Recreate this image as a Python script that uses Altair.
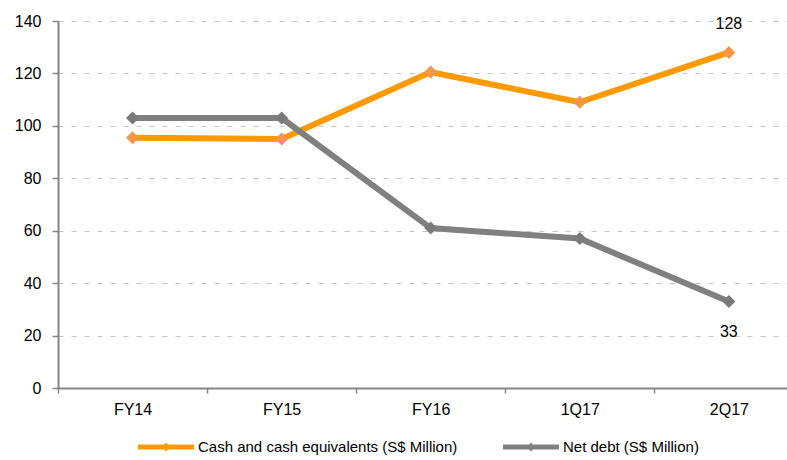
import json
import altair as alt
import pandas as pd

# Reporting periods and the two series (S$ Million)
periods = ["FY14", "FY15", "FY16", "1Q17", "2Q17"]
cash = [95.5, 95.0, 120.5, 109.0, 128.0]
net_debt = [103.0, 103.0, 61.0, 57.0, 33.0]
series_names = ["Cash and cash equivalents (S$ Million)", "Net debt (S$ Million)"]
line_colors = ["#FF9900", "#808080"]
marker_colors = ["#F79646", "#7A7A7A"]
y_ticks = [0, 20, 40, 60, 80, 100, 120, 140]

rows = []
for i, p in enumerate(periods):
    for name, vals in zip(series_names, [cash, net_debt]):
        rows.append({
            "idx": i,
            "period": p,
            "series": name,
            "line_series": name,
            "marker_series": name,
            "value": vals[i],
        })
df = pd.DataFrame(rows)

FONT = "Liberation Sans"
FS = 16
LEGEND_FS = 15
AXIS_GREY = "#868686"

# Category positions on a numeric scale; ticks sit between categories
tick_vals = []
for i in range(len(periods)):
    tick_vals += [i - 0.5, i]
label_expr = "datum.value % 1 === 0 ? " + json.dumps(periods) + "[datum.value] : ''"

x_enc = alt.X(
    "idx:Q",
    scale=alt.Scale(domain=[-0.5, 4.39], nice=False, zero=False),
    axis=alt.Axis(
        values=tick_vals,
        labelExpr=label_expr,
        labelOverlap=False,
        grid=False,
        title=None,
        domainColor=AXIS_GREY,
        domainWidth=2,
        tickColor=AXIS_GREY,
        tickWidth=1.5,
        tickSize=5,
        tickOpacity={"condition": {"test": "datum.value % 1 !== 0", "value": 1}, "value": 0},
        labelPadding=8,
        labelFont=FONT,
        labelFontSize=FS,
        labelColor="black",
    ),
)

y_enc = alt.Y(
    "value:Q",
    scale=alt.Scale(domain=[0, 140], nice=False),
    axis=alt.Axis(
        values=y_ticks,
        title=None,
        grid=True,
        gridColor="#C4C4C4",
        gridDash=[5, 8],
        gridWidth=1,
        domainColor=AXIS_GREY,
        domainWidth=2,
        tickColor=AXIS_GREY,
        tickWidth=1.5,
        tickSize=6,
        labelPadding=11,
        labelFont=FONT,
        labelFontSize=FS,
        labelColor="black",
    ),
)

base = alt.Chart(df)

# Legend symbol: a thick line segment with a small diamond in the middle
legend_path = (
    "M-1,-0.09 L1,-0.09 L1,0.09 L-1,0.09 Z "
    "M0,-0.16 L0.15,0 L0,0.16 L-0.15,0 Z"
)

# Layer with no rows that only carries the series legend (domain is explicit)
legend_layer = base.transform_filter("false").mark_point(
    filled=True, size=3136, opacity=1, shape=legend_path, strokeWidth=0
).encode(
    x=x_enc,
    y=y_enc,
    color=alt.Color(
        "series:N",
        scale=alt.Scale(domain=series_names, range=line_colors),
        legend=alt.Legend(
            title=None,
            orient="none",
            direction="horizontal",
            legendX=80,
            legendY=398,
            padding=0,
            symbolType=legend_path,
            symbolSize=3136,
            symbolStrokeWidth=0,
            symbolOpacity=1,
            labelFont=FONT,
            labelFontSize=LEGEND_FS,
            labelColor="black",
            labelOffset=4,
            labelLimit=400,
            columnPadding=45,
        ),
    ),
)

lines = base.mark_line(strokeWidth=6).encode(
    x=x_enc,
    y=y_enc,
    stroke=alt.Stroke(
        "line_series:N",
        scale=alt.Scale(domain=series_names, range=line_colors),
        legend=None,
    ),
)

markers = base.mark_point(shape="diamond", filled=True, size=170, opacity=1, strokeWidth=0).encode(
    x=x_enc,
    y=y_enc,
    fill=alt.Fill(
        "marker_series:N",
        scale=alt.Scale(domain=series_names, range=marker_colors),
        legend=None,
    ),
)

last_cash = base.mark_text(dy=-28, font=FONT, fontSize=FS, color="black").encode(
    x=x_enc, y=y_enc, text=alt.Text("value:Q", format=".0f")
).transform_filter(
    (alt.datum.idx == len(periods) - 1) & (alt.datum.series == series_names[0])
)

last_debt = base.mark_text(dy=31, font=FONT, fontSize=FS, color="black").encode(
    x=x_enc, y=y_enc, text=alt.Text("value:Q", format=".0f")
).transform_filter(
    (alt.datum.idx == len(periods) - 1) & (alt.datum.series == series_names[1])
)

chart = (
    alt.layer(legend_layer, lines, markers, last_cash, last_debt)
    .properties(
        width=729,
        height=367,
        padding={"left": 58, "top": 21, "right": 0, "bottom": 72},
        autosize=alt.AutoSizeParams(type="none"),
        background="white",
    )
    .configure_view(stroke=None)
)

chart.save("out.html", embed_options={"renderer": "svg", "actions": False})
